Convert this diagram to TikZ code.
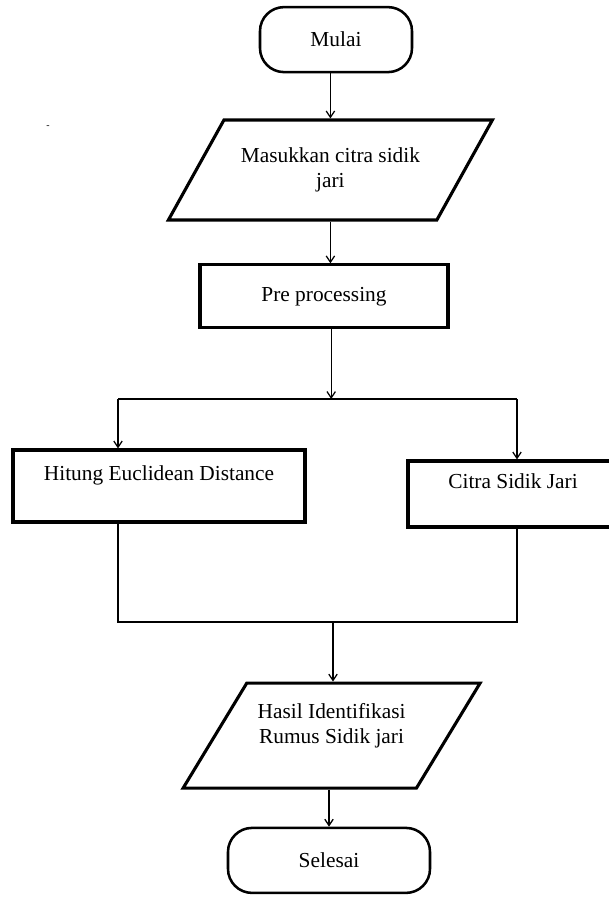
\documentclass[tikz,border=0pt]{standalone}
\usepackage{fontspec}
\setmainfont{Liberation Serif}
\usetikzlibrary{calc}
\usetikzlibrary{shapes.geometric}
\usetikzlibrary{arrows.meta}
\tikzset{>={Straight Barb[length=4.5pt,width=6pt]}}
\tikzset{
  flowtext/.style={font=\fontsize{15.2}{17.8}\selectfont, align=center},
  terminal/.style={flowtext, draw, line width=1.8pt, rounded corners=0.6cm,
    minimum width=3.8cm, minimum height=1.625cm},
  inout/.style={flowtext, draw, line width=2.2pt, trapezium,
    trapezium stretches body, inner sep=2pt},
  process/.style={flowtext, draw, line width=2.2pt, rectangle},
  link/.style={line width=0.9pt}
}

\begin{document}
\begin{tikzpicture}
    \useasboundingbox (0, 0) rectangle (15.2, -22.475);

    \node [terminal] (mulai) at (8.4, -0.99) {Mulai};

    \node [inout, minimum width=8.1cm, minimum height=2.5cm,
    trapezium left angle=42, trapezium right angle=138]
    (masukkan) at (8.26, -4.25) {Masukkan citra sidik\\jari};

    \node [process, minimum width=6.2cm, minimum height=1.575cm]
    (pre) at (8.1, -7.41) {Pre processing};

    \node [process, minimum width=7.3cm, minimum height=1.8cm]
    (hitung) at (3.975, -12.15) {Hitung Euclidean Distance\\ \mbox{}};

    \node [process, minimum width=5.25cm, minimum height=1.65cm]
    (citra) at (12.825, -12.35) {Citra Sidik Jari\\ \mbox{}};

    \node [inout, minimum width=7.425cm, minimum height=2.625cm,
    trapezium left angle=48, trapezium right angle=132]
    (hasil) at (8.29, -18.39) {Hasil Identifikasi\\Rumus Sidik jari\\ \mbox{}};

    \node [terminal, minimum width=5.05cm] (selesai) at (8.225, -21.51) {Selesai};

    \node [font=\fontsize{7}{8}\selectfont, inner sep=0pt] (titik) at (1.2, -3.175) {-};

    \coordinate (split) at (8.28, -9.975);
    \coordinate (splitL) at (2.95, -9.975);
    \coordinate (splitR) at (12.925, -9.975);
    \coordinate (merge) at (8.325, -15.55);
    \coordinate (mergeL) at (2.95, -15.55);
    \coordinate (mergeR) at (12.925, -15.55);

    \draw [link, ->] (mulai.south -| masukkan.north) -- (masukkan.north);
    \draw [link, ->] (masukkan.south) -- (masukkan.south |- pre.north);
    \draw [link, ->] (pre.south -| split) -- (split);

    \draw [link] (splitL) -- (splitR);
    \draw [link, ->] (splitL) -- (splitL |- hitung.north);
    \draw [link, ->] (splitR) -- (splitR |- citra.north);

    \draw [link] (splitL |- hitung.south) -- (mergeL) -- (mergeR)
    -- (splitR |- citra.south);

    \draw [link, ->] (merge) -- (merge |- hasil.north);
    \draw [link, ->] (hasil.south -| selesai.north) -- (selesai.north);
  \end{tikzpicture}
\end{document}
